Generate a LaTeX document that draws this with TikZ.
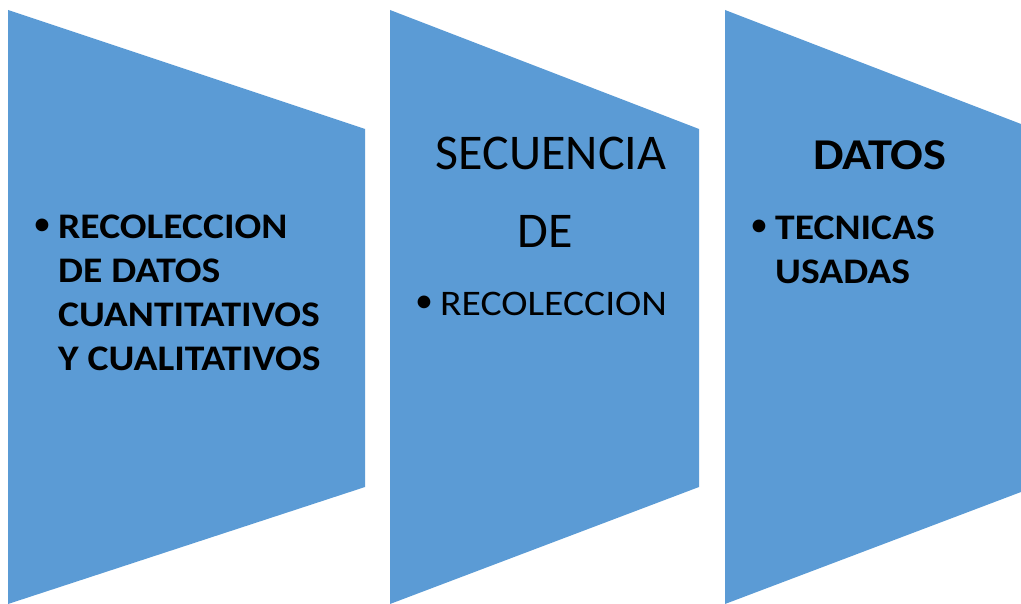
\documentclass[tikz,border=0pt]{standalone}
\usepackage{fontspec}
\setmainfont{Carlito}
\newfontfamily\widefont{Carlito}[FakeStretch=1.1]
\usetikzlibrary{positioning}
\definecolor{panelblue}{HTML}{5B9BD5}

\begin{document}
\begin{tikzpicture}[x=1pt, y=-1pt,
    panel/.style={fill=panelblue, draw=none},
    item/.style={anchor=north west, inner sep=0pt, align=left},
    dot/.style={inner sep=0pt, font=\fontsize{36}{44}\selectfont},
    head/.style={anchor=base, inner sep=0pt}]
    \useasboundingbox (0,0) rectangle (1021,604);

    % Panels
    \fill[panel] (8,10) -- (365,129) -- (365,487) -- (8,604) -- cycle;
    \fill[panel] (390,10) -- (699,129) -- (699,487) -- (390,604) -- cycle;
    \fill[panel] (725,10) -- (1021,124) -- (1021,492) -- (725,604) -- cycle;

    % Panel 1
    \node[dot] (b1) at (42,227) {•};
    \node[item, font=\widefont\fontsize{36}{44}\selectfont\bfseries] (recoleccion) at (58,215)
        {RECOLECCION\\DE DATOS\\CUANTITATIVOS\\Y CUALITATIVOS};

    % Panel 2
    \node[head, font=\fontsize{50}{60}\selectfont] (secuencia) at (551,170) {SECUENCIA};
    \node[head, font=\fontsize{50}{60}\selectfont] (de) at (545,248) {DE};
    \node[dot] (b2) at (424,304) {•};
    \node[item, font=\widefont\fontsize{36}{44}\selectfont] (recol2) at (440,292) {RECOLECCION};

    % Panel 3
    \node[head, font=\widefont\fontsize{44}{52}\selectfont\bfseries] (datos) at (880,170) {DATOS};
    \node[dot] (b3) at (759,228) {•};
    \node[item, font=\widefont\fontsize{36}{44}\selectfont\bfseries] (tecnicas) at (775,216)
        {TECNICAS\\USADAS};
\end{tikzpicture}
\end{document}
